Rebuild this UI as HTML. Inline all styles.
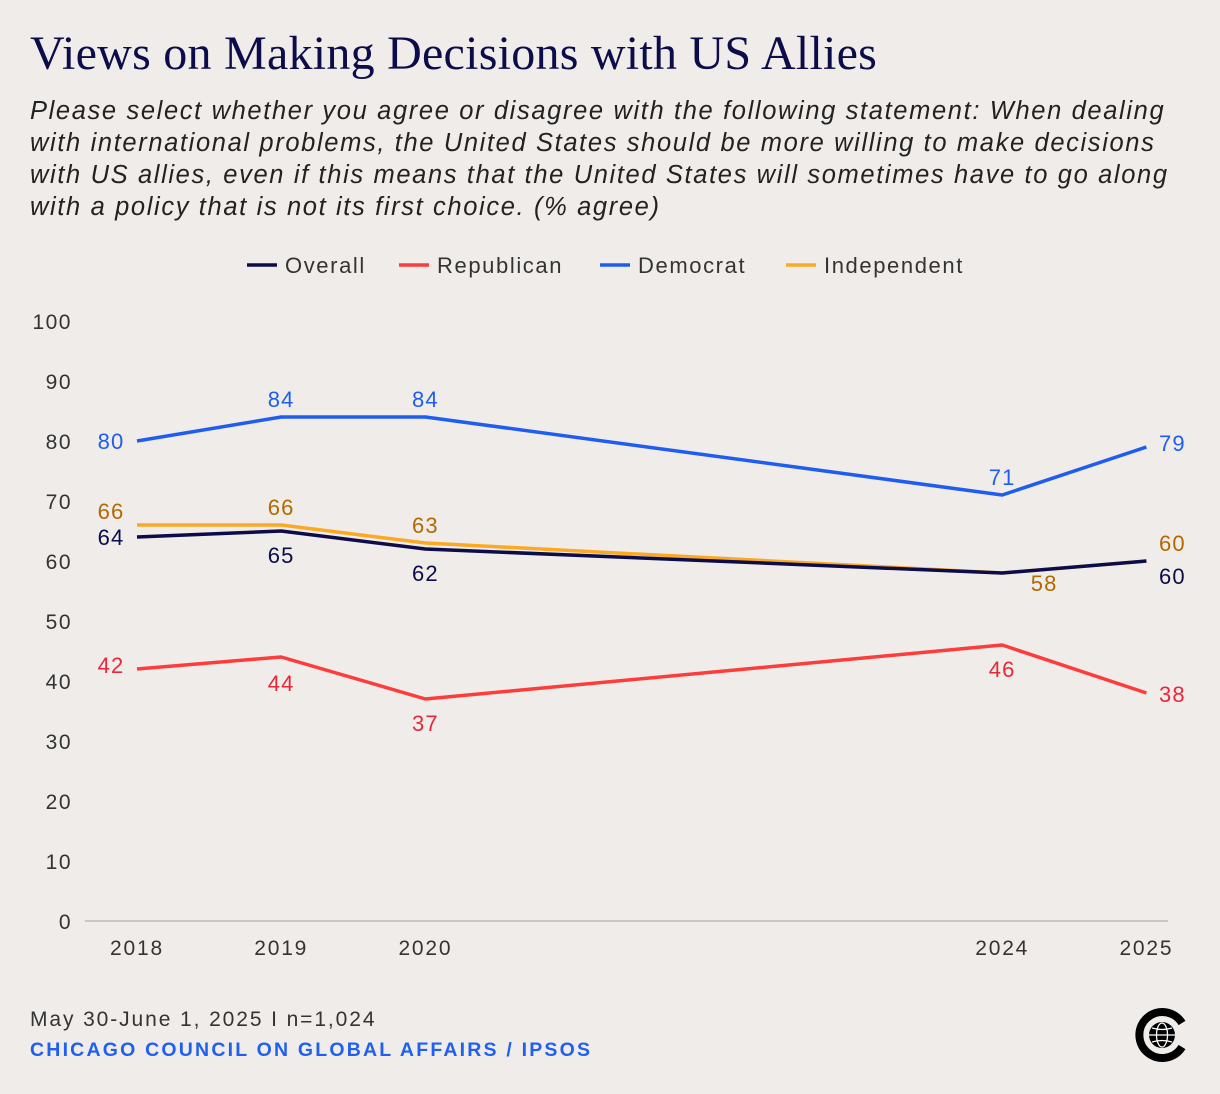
<!DOCTYPE html>
<html><head><meta charset="utf-8">
<style>
body{margin:0;background:#f0ece9;}
#wrap{position:relative;width:1220px;height:1094px;background:#f0ece9;font-family:"Liberation Sans",sans-serif;overflow:hidden}
h1{position:absolute;left:30px;top:26px;margin:0;font-family:"Liberation Serif",serif;font-weight:normal;font-size:48px;color:#0c0c4a;letter-spacing:0.25px;white-space:nowrap}
#sub{position:absolute;left:30px;top:95px;width:1190px;font-style:italic;font-size:25.5px;line-height:32px;color:#222;letter-spacing:1.63px;white-space:nowrap}
#foot1{position:absolute;left:30px;top:1008px;font-size:21px;color:#333;letter-spacing:1.9px}
#foot2{position:absolute;left:30px;top:1039px;font-size:19.5px;font-weight:bold;color:#2060f0;letter-spacing:2.2px}
</style></head><body>
<div id="wrap">
<h1>Views on Making Decisions with US Allies</h1>
<div id="sub">Please select whether you agree or disagree with the following statement: When dealing<br>with international problems, the United States should be more willing to make decisions<br>with US allies, even if this means that the United States will sometimes have to go along<br>with a policy that is not its first choice. (% agree)</div>
<svg id="chart" width="1220" height="1094" style="position:absolute;left:0;top:0"></svg>
<div id="foot1">May 30-June 1, 2025 I n=1,024</div>
<div id="foot2">CHICAGO COUNCIL ON GLOBAL AFFAIRS / IPSOS</div>
<svg width="70" height="70" style="position:absolute;left:1125px;top:1000px">
<path d="M57 23 A23 23 0 1 0 57 47" fill="none" stroke="#000" stroke-width="8"/>
<circle cx="37" cy="35" r="13" fill="#000"/>
<g stroke="#fff" stroke-width="1.3" fill="none"><ellipse cx="37" cy="35" rx="5.5" ry="12"/><line x1="24" y1="35" x2="50" y2="35"/><path d="M27 28 Q37 31 47 28"/><path d="M27 42 Q37 39 47 42"/></g>
</svg>
</div>
<script>
const years=[2018,2019,2020,2024,2025];
const overall=[64,65,62,58,60];
const republican=[42,44,37,46,38];
const democrat=[80,84,84,71,79];
const independent=[66,66,63,58,60];
const yTicks=[0,10,20,30,40,50,60,70,80,90,100];
const seriesNames=["Overall","Republican","Democrat","Independent"];
const NS="http://www.w3.org/2000/svg";
const svg=document.getElementById('chart');
const x=y=>137+(y-2018)*144.2;
const yy=v=>921-v*6;
function el(t,a,txt){const e=document.createElementNS(NS,t);for(const k in a)e.setAttribute(k,a[k]);if(txt!=null)e.textContent=txt;svg.appendChild(e);return e;}
const ff='"Liberation Sans",sans-serif';
yTicks.forEach(v=>{const t=el('text',{x:72,y:yy(v)+8,'text-anchor':'end','font-size':21,fill:'#333','font-family':ff,'letter-spacing':1.5},v);

});
const ax=el('line',{x1:85,x2:1168,y1:921,y2:921,stroke:'#bbb','stroke-width':1.5});


years.forEach(y=>{const t=el('text',{x:x(y),y:955,'text-anchor':'middle','font-size':21,fill:'#333','font-family':ff,'letter-spacing':1.8},y);

});
const colors=["#0c0c4a","#fc3d3b","#1f5df0","#fba923"];
const labelColors=["#0c0c4a","#e8283a","#1f5df0","#b26a00"];
const legX=[247,399,600,786];
seriesNames.forEach((n,i)=>{
const l=el('line',{x1:legX[i],x2:legX[i]+30,y1:265,y2:265,stroke:colors[i],'stroke-width':3.5});


const t=el('text',{x:legX[i]+38,y:273,'font-size':22,fill:'#333','font-family':ff,'letter-spacing':1.6},n);


});
const data=[overall,republican,democrat,independent];
const order=[1,2,3,0];
const offs={
0:[[-26,8],[0,32],[0,32],[999,0],[26,23]],
1:[[-26,4],[0,34],[0,32],[0,32],[26,9]],
2:[[-26,8],[0,-10],[0,-10],[0,-10],[26,4]],
3:[[-26,-6],[0,-10],[0,-10],[42,18],[26,-10]]
};
order.forEach(i=>{
const d=data[i];
const p=el('polyline',{points:years.map((y,j)=>x(y)+','+yy(d[j])).join(' '),fill:'none',stroke:colors[i],'stroke-width':3.5,'stroke-linejoin':'round'});


});
[0,1,2,3].forEach(i=>{
const d=data[i];
years.forEach((y,j)=>{
const o=offs[i][j]; if(o[0]===999) return;
const t=el('text',{x:x(y)+o[0],y:yy(d[j])+o[1],'text-anchor':'middle','font-size':22,fill:labelColors[i],'font-family':ff,'letter-spacing':1.2},d[j]);


});
});
</script>
</body></html>
